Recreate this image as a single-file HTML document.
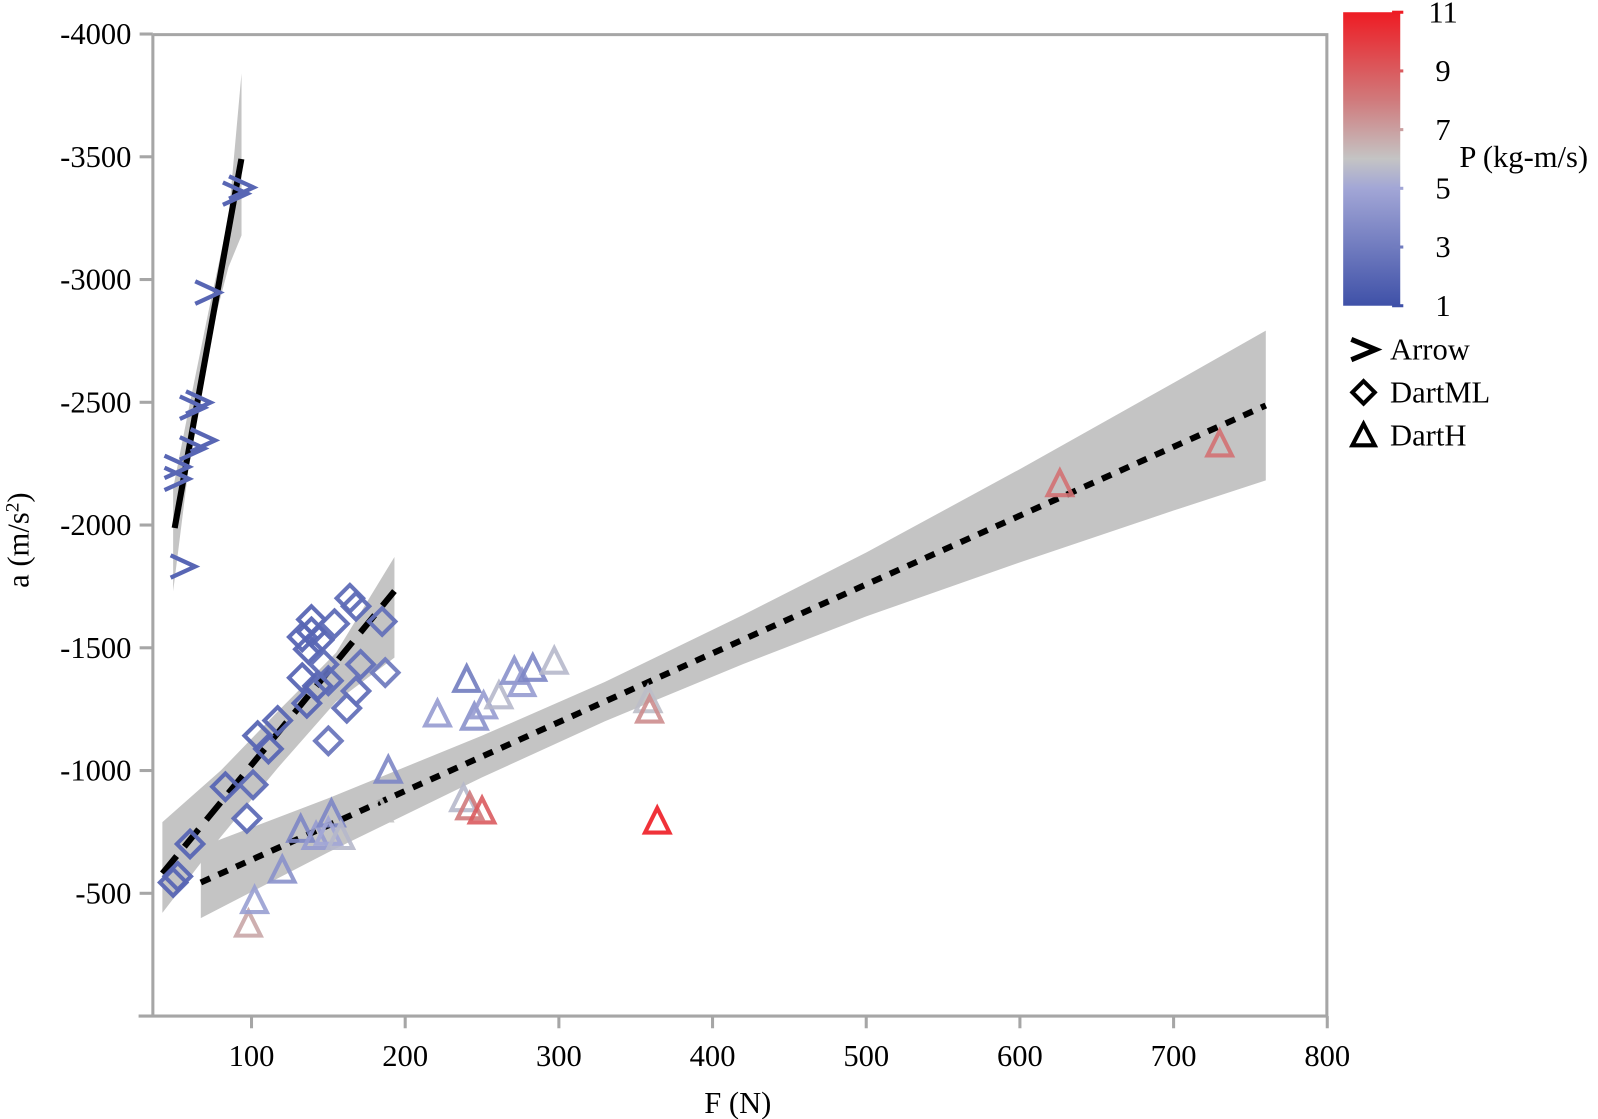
<!DOCTYPE html>
<html><head><meta charset="utf-8"><style>
html,body{margin:0;padding:0;background:#fff;overflow:hidden;}
svg{display:block;}
svg text{font-family:"Liberation Serif",serif;fill:#000;}
</style></head><body>
<svg id="chart" width="1598" height="1119" viewBox="0 0 1598 1119" xmlns="http://www.w3.org/2000/svg">
<defs>
<linearGradient id="cmap" x1="0" y1="1" x2="0" y2="0">
<stop offset="0" stop-color="#3f51a8"/>
<stop offset="0.4" stop-color="#a2a6d6"/>
<stop offset="0.5" stop-color="#c4c4c4"/>
<stop offset="0.7" stop-color="#d07a7c"/>
<stop offset="1" stop-color="#ee1c24"/>
</linearGradient>
</defs>
<g transform="scale(1.0191)">
<g id="bands"></g>
<g id="fits"></g>
<g id="marks"></g>
<g id="axes"></g>
</g>
</svg>
<script>
const xTicks=[100,200,300,400,500,600,700,800];
const yTicks=[-4000,-3500,-3000,-2500,-2000,-1500,-1000,-500];
const cbTicks=[1,3,5,7,9,11];
const arrowF=[94,90,72,66,62,69,62,52,52,56];
const arrowA=[-3375,-3350,-2947,-2499,-2478,-2345,-2312,-2237,-2188,-1831];
const arrowP=[2,2,2,2,2,2,2,2,2,2];
const dartmlF=[49,52,60,83,97,101,104,111,117,136,133,143,137,133,139,144,139,154,164,168,185,150,162,168,171,187,147,150];
const dartmlA=[-544,-569,-701,-934,-805,-942,-1142,-1088,-1204,-1274,-1378,-1345,-1494,-1544,-1565,-1532,-1615,-1598,-1702,-1669,-1607,-1121,-1254,-1324,-1432,-1399,-1432,-1366];
const dartmlP=[2,2,2,2,2.3,2.3,2,2,2,2,2,2,2,2,2,2,2,2.3,2.3,2.3,2.5,2.8,2.5,2.5,2.5,3,2.3,2.3];
const darthF=[98,102,120,132,142,152,150,158,183,189,221,240,245,251,261,271,276,283,297,238,242,250,358,359,364,626,730];
const darthA=[-369,-465,-589,-755,-726,-818,-743,-726,-838,-996,-1225,-1366,-1212,-1258,-1299,-1399,-1349,-1411,-1440,-880,-847,-830,-1283,-1241,-789,-2163,-2325];
const darthP=[6.8,4.6,4,3.5,4.5,3.5,5,5.6,6,3.5,4.5,3,4,4.5,5.6,4,4.5,3.5,5.6,5.6,8,9,5.8,7.5,11,8.3,8.3];
const arrowFit=[[50,-1988],[93.4,-3491]];
const dartmlFit=[[42,-581],[193,-1731]];
const darthFit=[[67,-544],[760,-2487]];
const arrowBandF=[49,60,72,85,93.5];
const arrowBandHi=[-2150,-2500,-2870,-3250,-3840];
const arrowBandLo=[-1730,-2280,-2740,-3050,-3180];
const dartmlBandF=[42,80,117,155,193];
const dartmlBandHi=[-790,-1000,-1240,-1480,-1870];
const dartmlBandLo=[-420,-730,-1010,-1280,-1460];
const darthBandF=[67,150,250,330,420,500,600,700,760];
const darthBandHi=[-689,-887,-1142,-1361,-1634,-1888,-2228,-2579,-2792];
const darthBandLo=[-399,-667,-972,-1201,-1434,-1628,-1848,-2059,-2182];

const NS="http://www.w3.org/2000/svg";
const X=f=>96+f*1.508;
const Y=a=>997+a*0.2409;
const CBY=p=>300-(p-1)*28.8;
function el(tag,attrs,parent){const e=document.createElementNS(NS,tag);for(const k in attrs)e.setAttribute(k,attrs[k]);parent.appendChild(e);return e;}
function lerp(a,b,t){return a+(b-a)*t;}
function col(p){
  const st=[[1,[63,81,168]],[5,[162,166,214]],[6,[196,196,196]],[8,[208,122,124]],[11,[238,28,36]]];
  for(let i=0;i<st.length-1;i++){if(p<=st[i+1][0]){const t=(p-st[i][0])/(st[i+1][0]-st[i][0]);const c=st[i][1].map((v,j)=>Math.round(lerp(v,st[i+1][1][j],t)));return `rgb(${c})`;}}
  return 'rgb(238,28,36)';
}
const bands=document.getElementById('bands'),fits=document.getElementById('fits'),marks=document.getElementById('marks'),axes=document.getElementById('axes');
function band(F,hi,lo,name){
  let pts=F.map((f,i)=>X(f)+','+Y(hi[i]));
  pts=pts.concat(F.map((f,i)=>X(f)+','+Y(lo[i])).reverse());
  const p=el('polygon',{points:pts.join(' '),fill:'#c4c4c4'},bands);
  
  
}
band(arrowBandF,arrowBandHi,arrowBandLo,'arrow-confidence-band');
band(dartmlBandF,dartmlBandHi,dartmlBandLo,'dartml-confidence-band');
band(darthBandF,darthBandHi,darthBandLo,'darth-confidence-band');
function fit(d,dash,name){
  const l=el('line',{x1:X(d[0][0]),y1:Y(d[0][1]),x2:X(d[1][0]),y2:Y(d[1][1]),stroke:'#000','stroke-width':6},fits);
  if(dash)l.setAttribute('stroke-dasharray',dash);
  
  
}
fit(arrowFit,null,'arrow-fit-line');
fit(dartmlFit,'22,12','dartml-fit-line');
fit(darthFit,'10,9','darth-fit-line');
arrowF.forEach((f,i)=>{
  const x=X(f),y=Y(arrowA[i]);
  const m=el('polyline',{points:`${x-13},${y-11} ${x+11},${y} ${x-13},${y+11}`,fill:'none',stroke:col(arrowP[i]),'stroke-width':4.2},marks);
  
  
});
dartmlF.forEach((f,i)=>{
  const x=X(f),y=Y(dartmlA[i]);
  const m=el('polygon',{points:`${x},${y-13} ${x+13},${y} ${x},${y+13} ${x-13},${y}`,fill:'none',stroke:col(dartmlP[i]),'stroke-width':4,opacity:0.95},marks);
  
  
});
darthF.forEach((f,i)=>{
  const x=X(f),y=Y(darthA[i]);
  const m=el('polygon',{points:`${x},${y-14} ${x+12},${y+10} ${x-12},${y+10}`,fill:'none',stroke:col(darthP[i]),'stroke-width':4,opacity:0.9},marks);
  
  
});
const ax=el('path',{d:'M150,34 H1302 V997 M150,34 V997 M136,997 H1302',fill:'none',stroke:'#a6a6a6','stroke-width':3},axes);


xTicks.forEach(v=>{
  const t=el('line',{x1:X(v),y1:997,x2:X(v),y2:1009,stroke:'#a6a6a6','stroke-width':3},axes);
  
  
  const tx=el('text',{x:X(v),y:1046,'font-size':30,'text-anchor':'middle'},axes);
  tx.textContent=v;
  
  
});
yTicks.forEach(v=>{
  const t=el('line',{x1:137,y1:Y(v),x2:150,y2:Y(v),stroke:'#a6a6a6','stroke-width':3},axes);
  
  
  const tx=el('text',{x:129,y:Y(v)+10,'font-size':30,'text-anchor':'end'},axes);
  tx.textContent=v;
  
  
});
const xt=el('text',{x:724,y:1092,'font-size':30,'text-anchor':'middle'},axes);
xt.textContent='F (N)';


const yt=el('text',{transform:'translate(28,530) rotate(-90)','font-size':30,'text-anchor':'middle'},axes);
yt.innerHTML='a (m/s<tspan baseline-shift="super" font-size="19">2</tspan>)';


const cb=el('rect',{x:1318,y:12,width:56,height:288,fill:'url(#cmap)'},axes);


cbTicks.forEach(v=>{
  const t=el('line',{x1:1366,y1:CBY(v),x2:1377,y2:CBY(v),stroke:col(v),'stroke-width':3},axes);
  
  
  const tx=el('text',{x:1416,y:CBY(v)+10,'font-size':30,'text-anchor':'middle'},axes);
  tx.textContent=v;
  
  
});
const cbl=el('text',{x:1432,y:164,'font-size':30},axes);
cbl.textContent='P (kg-m/s)';


const lg=[['Arrow',343],['DartML',385],['DartH',427]];
lg.forEach((d,i)=>{
  const y=d[1];let m;
  if(i===0)m=el('polyline',{points:`1326,${y-10} 1350,${y} 1326,${y+10}`,fill:'none',stroke:'#000','stroke-width':5},axes);
  if(i===1)m=el('polygon',{points:`1338,${y-11} 1349,${y} 1338,${y+11} 1327,${y}`,fill:'none',stroke:'#000','stroke-width':4},axes);
  if(i===2)m=el('polygon',{points:`1338,${y-11} 1349,${y+10} 1327,${y+10}`,fill:'none',stroke:'#000','stroke-width':4},axes);
  
  
  const tx=el('text',{x:1364,y:y+10,'font-size':30},axes);
  tx.textContent=d[0];
  
  
});
</script>
</body></html>
